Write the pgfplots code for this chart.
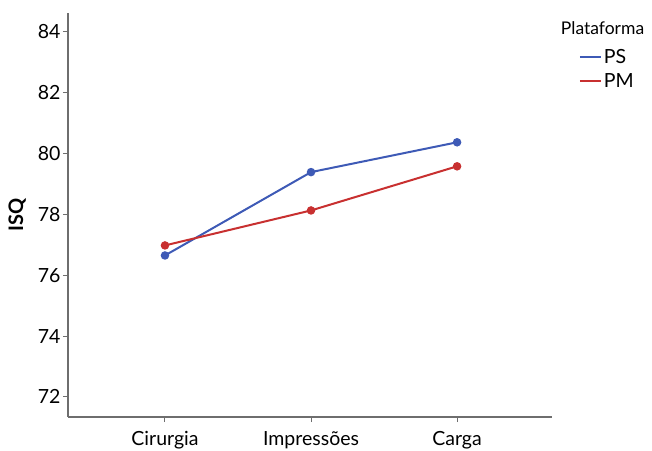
\documentclass[border=0pt]{standalone}
\usepackage{pgfplots}
\pgfplotsset{compat=1.18}
\usepackage{fontspec}
\setmainfont{Lato}
\definecolor{psblue}{RGB}{62,90,182}
\definecolor{pmred}{RGB}{200,48,48}
\definecolor{axgray}{RGB}{110,110,110}
\begin{document}
\begin{tikzpicture}[x=1pt,y=1pt]
\useasboundingbox (-68,-33) rectangle (584,417);
\begin{axis}[
  scale only axis,
  width=484pt, height=404pt,
  xmin=-0.664, xmax=2.65,
  ymin=71.34, ymax=84.62,
  axis lines*=left,
  axis line style={axgray, line width=1.3pt},
  every tick/.style={axgray, line width=1pt},
  major tick length=5pt,
  tick align=outside,
  xtick={0,1,2},
  xticklabels={Cirurgia,Impressões,Carga},
  ytick={72,74,76,78,80,82,84},
  /pgf/number format/assume math mode=true,
  ticklabel style={font=\fontsize{19.5}{21}\selectfont, black},
  xticklabel style={yshift=-6pt},
  yticklabel style={xshift=1pt},
  ylabel={\bfseries ISQ},
  ylabel style={font=\fontsize{20}{22}\selectfont, at={(axis description cs:-0.105,0.5)}, anchor=center},
  legend style={draw=none, fill=none, font=\fontsize{19.5}{21}\selectfont, anchor=north west, at={(1.055,0.915)}, row sep=4pt, inner sep=0pt},
  legend cell align=left,
  legend image code/.code={\draw[#1, mark=none] (0pt,0pt) -- (21pt,0pt);},
  clip=false,
]
\addplot[psblue, line width=2pt, mark=*, mark size=3.2pt] coordinates {(0,76.65) (1,79.39) (2,80.37)};
\addlegendentry{PS}
\addplot[pmred, line width=2pt, mark=*, mark size=3.2pt] coordinates {(0,76.98) (1,78.13) (2,79.58)};
\addlegendentry{PM}
\node[anchor=north west, font=\fontsize{17.5}{20}\selectfont, inner sep=0pt] at (rel axis cs:1.018,0.978) {Plataforma};
\end{axis}
\end{tikzpicture}
\end{document}
